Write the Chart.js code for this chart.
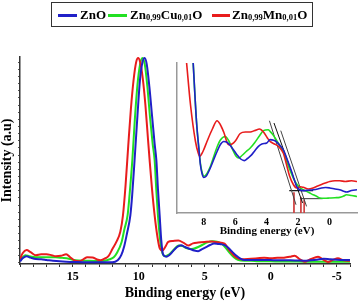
<!DOCTYPE html>
<html><head><meta charset="utf-8">
<script src="https://cdn.jsdelivr.net/npm/chart.js@4/dist/chart.umd.min.js"></script>
<style>
html,body{margin:0;padding:0;background:#fff;}
#wrap{position:relative;width:358px;height:302px;overflow:hidden;font-family:'Liberation Serif',serif;}
#main{position:absolute;left:0;top:0;}
#inset{position:absolute;left:160px;top:58px;}
#legend{position:absolute;left:51px;top:2px;width:262px;height:25px;box-sizing:border-box;border:1px solid #333;}
.sw{position:absolute;top:11px;height:3px;}
.lt{position:absolute;top:4px;font:bold 13px 'Liberation Serif',serif;color:#000;white-space:nowrap;line-height:16px;}
.lt sub{font-size:8.5px;vertical-align:-1px;}
</style></head><body>
<div id="wrap">
<canvas id="main" width="358" height="302"></canvas>
<canvas id="inset" width="198" height="182"></canvas>
<div id="legend">
  <div class="sw" style="left:6px;width:19px;background:#2020c8"></div>
  <div class="lt" style="left:28px">ZnO</div>
  <div class="sw" style="left:56px;width:19px;background:#22e022"></div>
  <div class="lt" style="left:78px">Zn<sub>0,99</sub>Cu<sub>0,01</sub>O</div>
  <div class="sw" style="left:160px;width:18px;background:#e81c1c"></div>
  <div class="lt" style="left:180px">Zn<sub>0,99</sub>Mn<sub>0,01</sub>O</div>
</div>
</div>
<script>
// ---------- main spectrum data (binding energy eV, intensity a.u.) ----------
const znoE = [19.0,18.8,18.5,18.2,17.8,17.4,17.0,16.5,16.0,15.5,15.0,14.0,13.0,12.0,11.6,11.33,11.1,10.9,10.64,10.5,10.32,10.1,9.9,9.7,9.56,9.4,9.2,9.0,8.8,8.67,8.55,8.42,8.3,8.17,7.92,7.7,7.4,7.1,6.8,6.5,6.1,5.8,5.5,5.2,4.9,4.6,4.3,4.0,3.7,3.5,3.2,2.9,2.6,2.3,2.0,1.5,1.0,0.5,0,-0.5,-1.0,-1.5,-2.0,-2.5,-3.0,-3.5,-4.0,-4.5,-5.0,-5.5,-6.0];
const znoI = [0.5,2,3,2.3,1.6,1.5,1.2,0.8,0.5,0.3,0.2,0,0,0,1,3.5,8,14,23,33,50,72,90,98.5,100,97,86,72,58,50,36,23,11,4,2.8,3.5,5.5,7.5,8.4,7.5,6.5,5.8,5.5,6.5,7.5,8.5,9.2,9,8.8,8.4,7,5,3.2,1.8,1.1,1.1,1.2,1.2,1.1,1,1,1,0.9,0.8,1,1.3,1.8,1.5,1.3,1.2,1.2];

const cuE = [19.0,18.8,18.6,18.3,17.8,17.0,16.3,15.8,15.3,14.8,14.0,13.3,12.6,12.2,11.9,11.65,11.3,11.1,10.85,10.7,10.49,10.3,10.1,9.9,9.73,9.55,9.35,9.15,8.95,8.8,8.67,8.55,8.4,8.22,8.0,7.8,7.6,7.3,7.0,6.7,6.4,6.1,5.8,5.5,5.2,4.8,4.4,4.0,3.7,3.4,3.1,2.8,2.5,2.0,1.5,1.0,0,-1.0,-2.0,-3.0,-4.0,-5.0,-6.0];
const cuI = [1,2.5,3.5,3,2.5,2.5,2.5,2.2,1.8,1,0.8,0.7,0.8,1.5,2.5,4.7,10,16,23,33,50,70,87,97,100,97,86,71,58,50,35,23,12,4.7,3,3.5,4.5,6.5,8.2,8,7,6.5,6.8,7.5,8.5,9.8,10.3,10,9,7,4.5,2.5,1.2,0.8,0.8,0.6,0.5,0.4,0.4,0.3,0.3,0.3,0.3];

const mnE = [19.0,18.8,18.5,18.2,17.8,17.4,17.0,16.6,16.3,15.9,15.5,15.2,14.9,14.5,14.2,13.9,13.5,13.2,12.9,12.6,12.3,12.0,11.7,11.4,11.2,11.0,10.8,10.6,10.4,10.2,10.05,9.9,9.7,9.5,9.3,9.18,9.0,8.8,8.6,8.42,8.2,8.0,7.77,7.4,7.0,6.6,6.25,5.9,5.5,5.0,4.5,4.0,3.5,3.2,2.8,2.5,2.2,1.5,1.0,0.5,0,-0.5,-1.0,-1.5,-1.8,-2.2,-2.56,-3.0,-3.58,-4.0,-4.33,-4.7,-5.09,-5.5,-6.0];
const mnI = [1.5,4.5,6,5,3.5,4,4,3.5,3,3.2,4,2.5,1,0.6,1.5,2.5,2.4,1.5,1,1.8,3,6.5,10,15,23,38,57,75,89,98,100,98,90,77,60,50,36,23,13,7,5.8,7.5,10,10.5,10.7,9.5,8.3,9.3,9.7,10,10.2,9.8,9.2,6.5,3.4,2,1.5,1.8,2,2.2,2,2.2,2.3,2.8,3.2,1.5,0.3,1.5,2.8,1.2,0.2,1.2,2,1,0.8];

const mainTickLabels = [15,10,5,0,-5];

// ---------- inset data (binding energy eV, relative intensity) ----------
const inZnoE = [9.7,9.2,8.9,8.67,8.46,8.3,8.21,8.1,8.0,7.85,7.58,7.35,7.15,6.95,6.73,6.5,6.31,6.1,5.89,5.65,5.42,5.2,4.94,4.75,4.52,4.3,3.99,3.78,3.55,3.35,3.15,2.94,2.7,2.41,2.2,2.09,1.9,1.67,1.35,1.04,0.75,0.51,0.25,-0.02,-0.35,-0.65,-0.9,-1.08,-1.4,-1.75];
const inZnoV = [290,200,145,100,61,42,32,26,23.7,24.5,30,36,41,45.5,47.7,47,45,42,38.9,36,34.9,36.5,38.9,41.5,44.4,46,46.7,48.9,48.5,47.3,45,42.2,36,27.7,21,17.7,15.5,14.9,15.2,15.5,16,16.7,17,16.7,16,15.5,14.5,14,15,15.5];

const inCuE = [9.7,9.2,8.9,8.67,8.46,8.3,8.21,8.1,8.0,7.85,7.58,7.35,7.15,6.95,6.63,6.4,6.15,5.95,5.78,5.55,5.3,5.04,4.75,4.45,4.2,3.9,3.78,3.62,3.46,3.2,2.94,2.6,2.3,2.1,1.88,1.67,1.46,1.25,1.04,0.8,0.61,0.3,-0.02,-0.35,-0.65,-0.9,-1.08,-1.4,-1.75];
const inCuV = [290,200,145,100,61,42,33,27,24.5,25.5,31,38,44,48.5,51,48,42,38,36.7,38.5,41,43.3,47,51.5,54.9,55.5,54.4,52.5,50,45.5,41,31,23.3,19.5,17,15.5,14.4,13.3,12.2,11,10,9.8,10,10.2,10.4,11.3,12.2,11.7,11];

const inMnE = [9.7,9.4,9.09,8.84,8.53,8.35,8.25,8.05,7.78,7.45,7.15,6.95,6.73,6.42,6.2,5.99,5.68,5.35,5.04,4.75,4.45,4.2,3.95,3.78,3.5,3.25,2.94,2.75,2.55,2.3,2.09,1.85,1.67,1.35,1.04,0.75,0.51,0.25,-0.02,-0.35,-0.65,-1.0,-1.4,-1.75];
const inMnV = [175,135,100,72,48,40,37.8,41,48,56,61.5,59,54,45.5,46,48,53,54,54,55,56,54,50,47.7,46,44.4,40,33,25,19,16.7,17.5,17.1,16,16.7,18,19,20,21,21.5,21.5,21,21.5,21];

// band-edge construction lines (inset units): [E1, V1, E2, V2]
const tangentLines = [[3.82,61.5,2.13,5.5],[3.53,60,1.71,6.7],[3.10,54.9,1.46,4.4]];
const baseLines = [[2.56,14.9,1.04,14.9],[1.88,9.6,0.44,9.6]];
const edgeMarks = [[2.26,13.7],[1.82,10.7],[1.61,8.9]];
const insetTicks = [8,6,4,2,0];

const BLUE='#2020c8', GREEN='#22e022', RED='#e81c1c';
const FONT="'Liberation Serif', serif";

function ds(E, I, color, w){
  return {data:E.map((e,i)=>({x:e,y:I[i]})), borderColor:color, borderWidth:w,
    pointRadius:0, cubicInterpolationMode:'monotone', fill:false};
}
function seg(p, color, w){
  return {data:[{x:p[0],y:p[1]},{x:p[2],y:p[3]}], borderColor:color, borderWidth:w,
    pointRadius:0, tension:0, fill:false};
}

new Chart(document.getElementById('main'), {
  type:'line',
  data:{datasets:[ds(znoE,znoI,BLUE,2), ds(mnE,mnI,RED,2), ds(cuE,cuI,GREEN,2)]},
  options:{
    responsive:false, animation:false, events:[],
    layout:{padding:{top:57,right:8,left:0,bottom:0}},
    plugins:{legend:{display:false},tooltip:{enabled:false}},
    scales:{
      x:{type:'linear', reverse:true, min:-6, max:19,
        afterFit:(s)=>{s.height=38;},
        border:{display:true,color:'#333',width:1.5},
        grid:{drawOnChartArea:false, drawTicks:true, tickLength:3, color:'#333'},
        ticks:{stepSize:1, autoSkip:false, maxRotation:0, padding:3, color:'#000',
          font:{family:FONT,weight:'bold',size:12},
          callback:(v)=>mainTickLabels.includes(v)?String(v):''},
        title:{display:true,text:'Binding energy (eV)',color:'#000',
          font:{family:FONT,weight:'bold',size:14},padding:{top:0,bottom:0}}
      },
      y:{type:'linear', min:-0.8, max:100.5,
        afterFit:(s)=>{s.width=20;},
        border:{display:true,color:'#333',width:1.5},
        grid:{drawOnChartArea:false, drawTicks:true, tickLength:2, color:'#555'},
        ticks:{display:false, stepSize:3.5, includeBounds:false},
        title:{display:true,text:'Intensity (a.u)',color:'#000',
          font:{family:FONT,weight:'bold',size:14,lineHeight:1},padding:{top:0,bottom:0}}
      }
    }
  }
});

const insetSets = [ds(inZnoE,inZnoV,BLUE,1.6), ds(inMnE,inMnV,RED,1.6), ds(inCuE,inCuV,GREEN,1.6)];
tangentLines.forEach((p,i)=>insetSets.push(seg(p, i===1?'#111':'#444', 1)));
insetSets.push(seg(baseLines[0],'#111',1.2));
insetSets.push(seg(baseLines[1],'#555',1.2));
edgeMarks.forEach(m=>insetSets.push(seg([m[0],m[1],m[0],0],'#d04040',1)));

new Chart(document.getElementById('inset'), {
  type:'line',
  data:{datasets:insetSets},
  options:{
    responsive:false, animation:false, events:[],
    layout:{padding:{top:5,right:1,left:0,bottom:0}},
    plugins:{legend:{display:false},tooltip:{enabled:false}},
    scales:{
      x:{type:'linear', reverse:true, min:-1.75, max:9.7,
        afterFit:(s)=>{s.height=27;},
        border:{display:true,color:'#999',width:1.5},
        grid:{drawOnChartArea:false, drawTicks:false},
        ticks:{stepSize:2, includeBounds:false, autoSkip:false, maxRotation:0, padding:3, color:'#000',
          font:{family:FONT,weight:'bold',size:10},
          callback:(v)=>insetTicks.includes(v)?String(v):''},
        title:{display:true,text:'Binding energy (eV)',color:'#000',
          font:{family:FONT,weight:'bold',size:11},padding:{top:0,bottom:2}}
      },
      y:{type:'linear', min:0, max:100,
        afterFit:(s)=>{s.width=17;},
        border:{display:true,color:'#999',width:1.5},
        grid:{display:false},
        ticks:{display:false}
      }
    }
  }
});
</script>
</body></html>
